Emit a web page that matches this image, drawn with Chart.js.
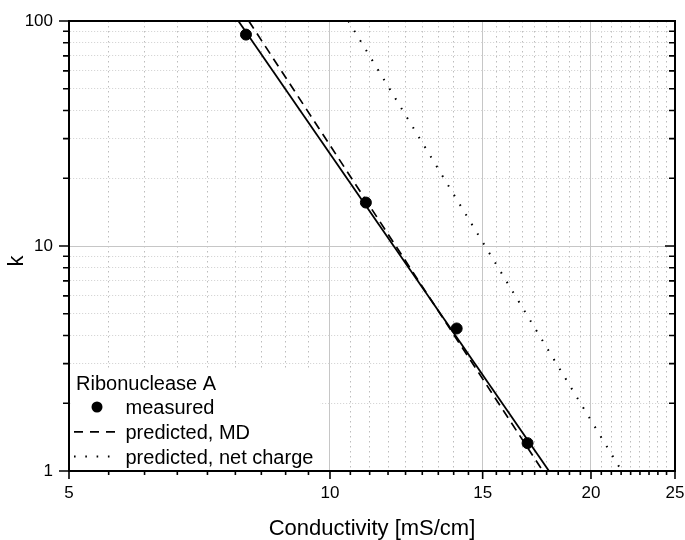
<!DOCTYPE html>
<html>
<head>
<meta charset="utf-8">
<script src="https://cdn.jsdelivr.net/npm/chart.js@4.4.1/dist/chart.umd.min.js"></script>
<style>
  html, body { margin: 0; padding: 0; background: #fff; }
</style>
</head>
<body>
<canvas id="myChart" width="685" height="540"></canvas>
<script>
// measured k vs conductivity
const measuredX = [8.0, 11.0, 14.0, 16.9];
const measuredK = [87, 15.6, 4.3, 1.33];
// fit through measured points (solid)
const fitX = [7.84, 17.89];
const fitK = [100, 1];
// predicted, MD (dashed)
const mdX = [8.06, 17.6];
const mdK = [100, 1];
// predicted, net charge (dotted)
const netX = [10.5, 21.7];
const netK = [100, 1];

const xMajor = [5, 10, 15, 20, 25];
const yMajor = [1, 10, 100];
const xTitle = 'Conductivity [mS/cm]';
const yTitle = 'k';
const legendTitle = 'Ribonuclease A';
const legendLabels = ['measured', 'predicted, MD', 'predicted, net charge'];

const FONT = '"Liberation Sans", Arial, sans-serif';

// 8 minor ticks between x majors, 2..9 per decade on y
const xTicks = [];
xMajor.forEach((v, i) => {
  xTicks.push(v);
  if (i < xMajor.length - 1) {
    const step = (xMajor[i + 1] - v) / 9;
    for (let k = 1; k <= 8; k++) xTicks.push(v + k * step);
  }
});
const yTicks = [];
for (let d = 1; d < 100; d *= 10) {
  for (let k = 1; k <= 9; k++) yTicks.push(k * d);
}
yTicks.push(100);

function isMajorX(v) { return v != null && xMajor.some(m => Math.abs(m - v) < 1e-6); }
function isMajorY(v) { return v != null && yMajor.some(m => Math.abs(m - v) < 1e-6); }

function pts(xs, ys) { return xs.map((x, i) => ({x: x, y: ys[i]})); }

function noPad(s) {
  s.paddingLeft = 0;
  s.paddingRight = 0;
  s.paddingTop = 0;
  s.paddingBottom = 0;
}

const framePlugin = {
  id: 'frame',
  beforeDatasetsDraw(chart) {
    const {ctx, chartArea: a} = chart;
    // white legend box
    ctx.save();
    ctx.fillStyle = '#fff';
    ctx.fillRect(a.left + 1.5, 368, 320 - a.left - 1.5, a.bottom - 1.5 - 368);
    ctx.restore();
  },
  afterDraw(chart) {
    const {ctx, chartArea: a, scales} = chart;
    const x = scales.x, y = scales.y;
    ctx.save();
    ctx.strokeStyle = '#000';
    ctx.lineWidth = 2;
    ctx.beginPath();
    ctx.moveTo(a.left - 1, a.top);
    ctx.lineTo(a.right, a.top);
    ctx.lineTo(a.right, a.bottom + 1);
    ctx.stroke();

    ctx.lineWidth = 1.6;
    ctx.beginPath();
    x.ticks.forEach(t => {
      const px = x.getPixelForValue(t.value);
      const len = isMajorX(t.value) ? 8 : 4;
      ctx.moveTo(px, a.bottom);
      ctx.lineTo(px, a.bottom + len);
    });
    y.ticks.forEach(t => {
      const py = y.getPixelForValue(t.value);
      const len = isMajorY(t.value) ? 10 : 6;
      ctx.moveTo(a.left - len, py);
      ctx.lineTo(a.left, py);
      ctx.moveTo(a.right - len, py);
      ctx.lineTo(a.right, py);
    });
    ctx.stroke();

    // y axis title, sits a bit below the axis middle like the original
    ctx.save();
    ctx.fillStyle = '#000';
    ctx.font = '22px ' + FONT;
    ctx.textAlign = 'center';
    ctx.textBaseline = 'middle';
    ctx.translate(16.5, 261);
    ctx.rotate(-Math.PI / 2);
    ctx.fillText(yTitle, 0, 0);
    ctx.restore();

    // legend
    const ds = chart.data.datasets;
    ctx.fillStyle = '#000';
    ctx.font = '20px ' + FONT;
    ctx.textBaseline = 'alphabetic';
    ctx.textAlign = 'left';
    const lx = a.left + 7;
    const tx = 125.5;
    ctx.fillText(legendTitle, lx, 389.5);
    const rows = [414, 438.8, 463.5];
    legendLabels.forEach((lab, i) => ctx.fillText(lab, tx, rows[i]));

    // markers
    ctx.beginPath();
    ctx.arc(97, rows[0] - 7, ds[0].pointRadius, 0, Math.PI * 2);
    ctx.fill();
    [2, 3].forEach((di, j) => {
      const d = ds[di];
      const yy = rows[j + 1] - 7;
      ctx.save();
      ctx.lineWidth = d.borderWidth;
      ctx.setLineDash(j === 0 ? [9, 7] : d.borderDash);
      ctx.beginPath();
      ctx.moveTo(74, yy);
      ctx.lineTo(116, yy);
      ctx.stroke();
      ctx.restore();
    });
    ctx.restore();
  }
};

const ctx = document.getElementById('myChart');
new Chart(ctx, {
  type: 'scatter',
  data: {
    datasets: [
      {
        label: legendLabels[0],
        data: pts(measuredX, measuredK),
        backgroundColor: '#000',
        borderColor: '#000',
        pointRadius: 5.5,
        pointHoverRadius: 5.5,
        showLine: false,
        order: 0
      },
      {
        label: 'fit',
        data: pts(fitX, fitK),
        showLine: true,
        borderColor: '#000',
        borderWidth: 1.8,
        pointRadius: 0,
        order: 1
      },
      {
        label: legendLabels[1],
        data: pts(mdX, mdK),
        showLine: true,
        borderColor: '#000',
        borderWidth: 1.7,
        borderDash: [9, 6],
        pointRadius: 0,
        order: 2
      },
      {
        label: legendLabels[2],
        data: pts(netX, netK),
        showLine: true,
        borderColor: '#000',
        borderWidth: 2,
        borderDash: [1.6, 9.7],
        pointRadius: 0,
        order: 3
      }
    ]
  },
  options: {
    responsive: false,
    animation: false,
    layout: { padding: { top: 21, right: 10, bottom: 0, left: 0 } },
    plugins: {
      legend: { display: false },
      tooltip: { enabled: false }
    },
    scales: {
      x: {
        type: 'logarithmic',
        min: 5,
        max: 25,
        afterBuildTicks: s => { s.ticks = xTicks.map(v => ({value: v})); },
        afterFit: s => { s.height = 69; noPad(s); },
        ticks: {
          autoSkip: false,
          maxRotation: 0,
          padding: 12,
          color: '#000',
          font: { family: FONT, size: 17 },
          callback: v => isMajorX(v) ? String(Math.round(v)) : ''
        },
        grid: {
          drawTicks: false,
          lineWidth: 1,
          color: c => (c.tick && isMajorX(c.tick.value)) ? '#c6c6c6' : '#bcbcbc'
        },
        border: {
          color: '#000',
          width: 2,
          dash: c => (c.tick && !isMajorX(c.tick.value)) ? [1.5, 3.5] : []
        },
        title: {
          display: true,
          text: xTitle,
          color: '#000',
          font: { family: FONT, size: 22, lineHeight: 1 },
          padding: { top: 0, bottom: 0 }
        }
      },
      y: {
        type: 'logarithmic',
        min: 1,
        max: 100,
        afterBuildTicks: s => { s.ticks = yTicks.map(v => ({value: v})); },
        afterFit: s => { s.width = 69; noPad(s); },
        ticks: {
          autoSkip: false,
          padding: 16,
          color: '#000',
          font: { family: FONT, size: 17 },
          callback: v => isMajorY(v) ? String(v) : ''
        },
        grid: {
          drawTicks: false,
          lineWidth: 1,
          color: c => (c.tick && isMajorY(c.tick.value)) ? '#c6c6c6' : '#d6d6d6'
        },
        border: {
          color: '#000',
          width: 2,
          dash: c => (c.tick && !isMajorY(c.tick.value)) ? [1.2, 1.8] : []
        },
        title: { display: false }
      }
    }
  },
  plugins: [framePlugin]
});
</script>
</body>
</html>
